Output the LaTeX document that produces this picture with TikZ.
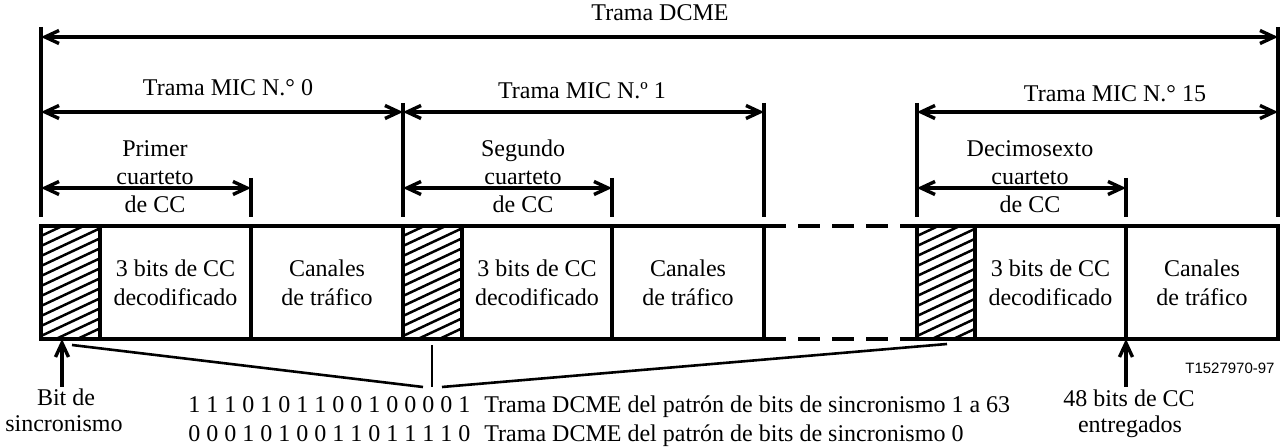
\documentclass[tikz,border=0pt]{standalone}
\usepackage{fontspec}
\setmainfont{Liberation Serif}
\newfontfamily\helvfont{Liberation Sans}
\usetikzlibrary{arrows.meta}
\begin{document}
\begin{tikzpicture}[x=0.5pt,y=-0.5pt,
  >={Straight Barb[length=7pt,width=6.5pt]},
  ext/.style={line width=1.7pt},
  dimarrow/.style={<->,line width=1.7pt},
  lbl/.style={font=\fontsize{12}{14}\selectfont,anchor=base,inner sep=0pt},
  cell/.style={draw,line width=1.8pt,anchor=north west,minimum height=56.5pt,
    inner sep=0pt,outer sep=0pt,align=center,font=\fontsize{12}{14.5}\selectfont},
  hatchcell/.style={cell,path picture={\foreach \k in {0,...,15}{\draw[line width=1.25pt]
    ([yshift=-\k*5pt]path picture bounding box.north west) -- ++(32pt,15pt);}}},
  fan/.style={line width=1.3pt},
  ptr/.style={->,line width=1.7pt},
  gapline/.style={line width=1.8pt,dash pattern=on 11pt off 6pt}]
\useasboundingbox (0,0) rectangle (1282,448);

% extension lines
\coordinate (L0t) at (41,27);   \coordinate (L0b) at (41,217);
\coordinate (R0t) at (1278,27); \coordinate (R0b) at (1278,217);
\coordinate (M1t) at (403,103); \coordinate (M1b) at (403,217);
\coordinate (M2t) at (764,103); \coordinate (M2b) at (764,217);
\coordinate (M3t) at (917,103); \coordinate (M3b) at (917,217);
\coordinate (Q0t) at (251,178); \coordinate (Q0b) at (251,217);
\coordinate (Q1t) at (612,178); \coordinate (Q1b) at (612,217);
\coordinate (Q2t) at (1126,178); \coordinate (Q2b) at (1126,217);
\foreach \a in {L0,R0,M1,M2,M3,Q0,Q1,Q2} \draw[ext] (\a t) -- (\a b);

\coordinate (ytop) at (0,37);
\coordinate (ymic) at (0,112);
\coordinate (yq) at (0,188);

% dimension arrows
\draw[dimarrow] (L0t |- ytop) -- (R0t |- ytop);
\draw[dimarrow] (L0t |- ymic) -- (M1t |- ymic);
\draw[dimarrow] (M1t |- ymic) -- (M2t |- ymic);
\draw[dimarrow] (M3t |- ymic) -- (R0t |- ymic);
\draw[dimarrow] (L0t |- yq) -- (Q0t |- yq);
\draw[dimarrow] (M1t |- yq) -- (Q1t |- yq);
\draw[dimarrow] (M3t |- yq) -- (Q2t |- yq);

% labels above
\node[lbl] (tdcme) at (660,21) {Trama DCME};
\node[lbl] (tmic0) at (228,96) {Trama MIC N.° 0};
\node[lbl] (tmic1) at (582,99) {Trama MIC N.º 1};
\node[lbl] (tmic15) at (1115,102) {Trama MIC N.° 15};
\node[lbl] (q0a) at (155,157) {Primer};
\node[lbl] (q0b) at (155,185) {cuarteto};
\node[lbl] (q0c) at (155,213) {de CC};
\node[lbl] (q1a) at (523,157) {Segundo};
\node[lbl] (q1b) at (523,185) {cuarteto};
\node[lbl] (q1c) at (523,213) {de CC};
\node[lbl] (q2a) at (1030,157) {Decimosexto};
\node[lbl] (q2b) at (1030,185) {cuarteto};
\node[lbl] (q2c) at (1030,213) {de CC};

% frame cells
\node[hatchcell,minimum width=29.5pt] (h0) at (41,226) {};
\node[cell,minimum width=75.5pt] (b0) at (100,226) {3 bits de CC\\decodificado};
\node[cell,minimum width=76pt] (t0) at (251,226) {Canales\\de tráfico};
\node[hatchcell,minimum width=29.5pt] (h1) at (403,226) {};
\node[cell,minimum width=75pt] (b1) at (462,226) {3 bits de CC\\decodificado};
\node[cell,minimum width=76pt] (t1) at (612,226) {Canales\\de tráfico};
\node[hatchcell,minimum width=29pt] (h2) at (917,226) {};
\node[cell,minimum width=75.5pt] (b2) at (975,226) {3 bits de CC\\decodificado};
\node[cell,minimum width=76pt] (t2) at (1126,226) {Canales\\de tráfico};
\draw[gapline] (t1.north east) -- (h2.north west);
\draw[gapline] (t1.south east) -- (h2.south west);

% pointers
\coordinate (bitS) at (62,387);
\coordinate (cc48) at (1126,387);
\draw[ptr] (bitS) -- (bitS |- h0.south);
\draw[ptr] (cc48) -- (cc48 |- b2.south);

% fan lines
\coordinate (f1a) at (72,345);  \coordinate (f1b) at (423,387);
\coordinate (f2a) at (432,345); \coordinate (f2b) at (432,387);
\coordinate (f3a) at (442,387); \coordinate (f3b) at (947,344);
\draw[fan] (f1a) -- (f1b);
\draw[fan] (f2a) -- (f2b);
\draw[fan] (f3a) -- (f3b);

% bottom labels
\node[lbl] (bit1) at (66,406) {Bit de};
\node[lbl] (bit2) at (64,432) {sincronismo};
\node[lbl,anchor=base west] (pat1) at (188,413) {1 1 1 0 1 0 1 1 0 0 1 0 0 0 0 1\hspace{7pt}Trama DCME del patrón de bits de sincronismo 1 a 63};
\node[lbl,anchor=base west] (pat2) at (188,442) {0 0 0 1 0 1 0 0 1 1 0 1 1 1 1 0\hspace{7pt}Trama DCME del patrón de bits de sincronismo 0};
\node[lbl] (cc1) at (1129,407) {48 bits de CC};
\node[lbl] (cc2) at (1130,433) {entregados};
\node[lbl,anchor=base east,font=\helvfont\fontsize{7.5}{9}\selectfont] (ref) at (1275,374) {T1527970-97};
\end{tikzpicture}
\end{document}
